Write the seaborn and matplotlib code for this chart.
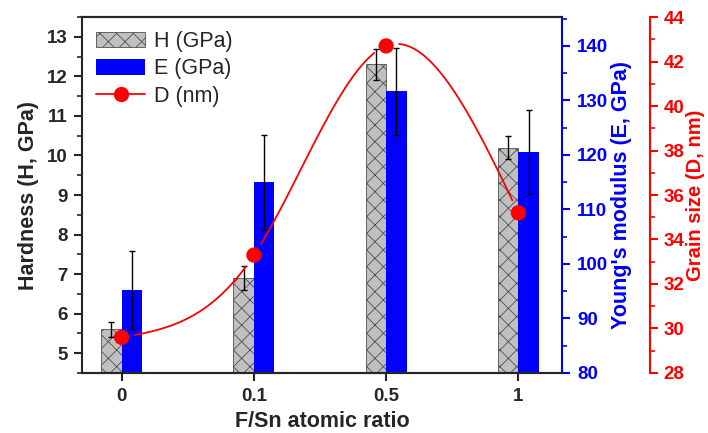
import numpy as np
import pandas as pd
import matplotlib.pyplot as plt
import seaborn as sns
from matplotlib.patches import Patch
from matplotlib.lines import Line2D
from matplotlib.ticker import MultipleLocator

# values
ratio = ['0', '0.1', '0.5', '1']
hardness = [5.6, 6.9, 12.3, 10.2]          # H (GPa), left axis
hardness_err = [0.2, 0.3, 0.4, 0.3]
modulus = [95.2, 115.0, 131.7, 120.6]      # E (GPa), blue axis
modulus_err = [7.2, 8.7, 8.0, 7.7]
grain = [29.6, 33.3, 42.7, 35.2]           # D (nm), red axis

sns.set_style('ticks')
plt.rcParams['font.family'] = ['Liberation Sans', 'DejaVu Sans']
plt.rcParams['hatch.linewidth'] = 0.6
plt.rcParams['hatch.color'] = '#404040'

fig = plt.figure(figsize=(7.08, 4.33), dpi=100)
ax = fig.add_axes([0.1158, 0.1386, 0.678, 0.8221])
ax2 = ax.twinx()
ax3 = ax.twinx()

df_h = pd.DataFrame({'ratio': ratio, 'val': hardness, 'series': 'H'})
df_e = pd.DataFrame({'ratio': ratio, 'val': modulus, 'series': 'E'})
pal = {'H': '#c0c0c0', 'E': '#0000ff'}

sns.barplot(data=df_h, x='ratio', y='val', hue='series', hue_order=['H', 'E'],
            order=ratio, palette=pal, width=0.31, dodge=True, saturation=1,
            errorbar=None, legend=False, ax=ax, edgecolor='#505050',
            linewidth=0.6, hatch='xx')
sns.barplot(data=df_e, x='ratio', y='val', hue='series', hue_order=['H', 'E'],
            order=ratio, palette=pal, width=0.31, dodge=True, saturation=1,
            errorbar=None, legend=False, ax=ax2, linewidth=0)

# error bars on the centre of each bar
xh = sorted(p.get_x() + p.get_width() / 2 for p in ax.patches)
xe = sorted(p.get_x() + p.get_width() / 2 for p in ax2.patches)
ax.errorbar(xh, hardness, yerr=hardness_err, fmt='none', ecolor='black',
            elinewidth=1, capsize=2.5, capthick=1)
ax2.errorbar(xe, modulus, yerr=modulus_err, fmt='none', ecolor='black',
             elinewidth=1, capsize=2.5, capthick=1)

ax.set_xlim(-0.3, 3.33)
ax.set_ylim(4.5, 13.5)
ax2.set_ylim(80, 145.3)
ax3.set_ylim(28, 44)

# smooth (natural cubic spline) line through the grain size points
xp = np.arange(len(grain), dtype=float)
yp = np.array(grain)
n = len(xp)
A = np.zeros((n, n))
b = np.zeros(n)
A[0, 0] = A[-1, -1] = 1
for i in range(1, n - 1):
    A[i, i - 1:i + 2] = [1, 4, 1]
    b[i] = 6 * (yp[i - 1] - 2 * yp[i] + yp[i + 1])
M = np.linalg.solve(A, b)
xs = np.linspace(0, n - 1, 400)
idx = np.clip(np.floor(xs).astype(int), 0, n - 2)
t = xs - idx
ys = ((1 - t) * yp[idx] + t * yp[idx + 1]
      + ((1 - t) ** 3 - (1 - t)) * M[idx] / 6 + (t ** 3 - t) * M[idx + 1] / 6)

# leave a gap round each marker, as in the original
pix = ax3.transData.transform(np.column_stack([xs, ys]))
mpix = ax3.transData.transform(np.column_stack([xp, yp]))
d = np.min(np.hypot(pix[:, None, 0] - mpix[None, :, 0],
                    pix[:, None, 1] - mpix[None, :, 1]), axis=1)
keep = d > 13
seg = np.cumsum(np.r_[0, np.diff(keep.astype(int)) != 0])
curve = pd.DataFrame({'x': xs[keep], 'y': ys[keep], 'seg': seg[keep]})
sns.lineplot(data=curve, x='x', y='y', units='seg', estimator=None,
             color='red', linewidth=1.3, ax=ax3, legend=False)
sns.scatterplot(x=xp, y=yp, s=121, color='red', edgecolor='none', ax=ax3,
                zorder=5, legend=False)

# axes styling
for a in (ax, ax2, ax3):
    for s in a.spines.values():
        s.set_linewidth(1.5)
ax.spines['right'].set_visible(False)
ax2.spines['left'].set_visible(False)
ax2.spines['right'].set_color('#0000ff')
ax3.spines['left'].set_visible(False)
ax3.spines['top'].set_visible(False)
ax3.spines['bottom'].set_visible(False)
ax3.spines['right'].set_position(('outward', 63.4))
ax3.spines['right'].set_color('red')
ax3.spines['right'].set_bounds(28, 44)

ax.yaxis.set_major_locator(MultipleLocator(1))
ax.yaxis.set_minor_locator(MultipleLocator(0.5))
ax2.yaxis.set_major_locator(MultipleLocator(10))
ax2.yaxis.set_minor_locator(MultipleLocator(5))
ax3.yaxis.set_major_locator(MultipleLocator(2))
ax3.yaxis.set_minor_locator(MultipleLocator(1))

tick_kw = dict(direction='out', width=1.5, labelsize=13.5)
ax.tick_params(axis='y', which='major', length=6, pad=4, **tick_kw)
ax.tick_params(axis='y', which='minor', length=3.5, width=1.2)
ax.tick_params(axis='x', which='major', length=6, pad=5, **tick_kw)
ax2.tick_params(axis='y', which='major', length=6, pad=5, colors='#0000ff', **tick_kw)
ax2.tick_params(axis='y', which='minor', length=3.5, width=1.2, colors='#0000ff')
ax3.tick_params(axis='y', which='major', length=6, pad=3.5, colors='red', **tick_kw)
ax3.tick_params(axis='y', which='minor', length=3.5, width=1.2, colors='red')
ax2.tick_params(axis='x', which='both', bottom=False, top=False, labelbottom=False)
ax3.tick_params(axis='x', which='both', bottom=False, top=False, labelbottom=False)

for a in (ax, ax2, ax3):
    for lab in a.get_xticklabels() + a.get_yticklabels():
        lab.set_fontweight('bold')

lab_kw = dict(fontsize=15.5, fontweight='bold')
ax.set_xlabel('F/Sn atomic ratio', labelpad=4, **lab_kw)
ax.set_ylabel('Hardness (H, GPa)', labelpad=6, **lab_kw)
ax2.set_xlabel('')
ax2.set_ylabel("Young's modulus (E, GPa)", color='#0000ff', labelpad=2, **lab_kw)
ax3.set_xlabel('')
ax3.set_ylabel('Grain size (D, nm)', color='red', labelpad=1.5, fontsize=14.5,
               fontweight='bold')

handles = [
    Patch(facecolor='#c0c0c0', edgecolor='#505050', hatch='xx', linewidth=0.6),
    Patch(facecolor='#0000ff', edgecolor='none'),
    Line2D([], [], color='red', linewidth=1.3, marker='o', markersize=11,
           markeredgecolor='none'),
]
ax3.legend(handles, ['H (GPa)', 'E (GPa)', 'D (nm)'], loc='upper left',
           frameon=False, fontsize=15.5, handlelength=2.3, handleheight=0.75,
           labelspacing=0.3, handletextpad=0.4, borderaxespad=0.35,
           borderpad=0.3)

fig.savefig('out.png', dpi=100)
